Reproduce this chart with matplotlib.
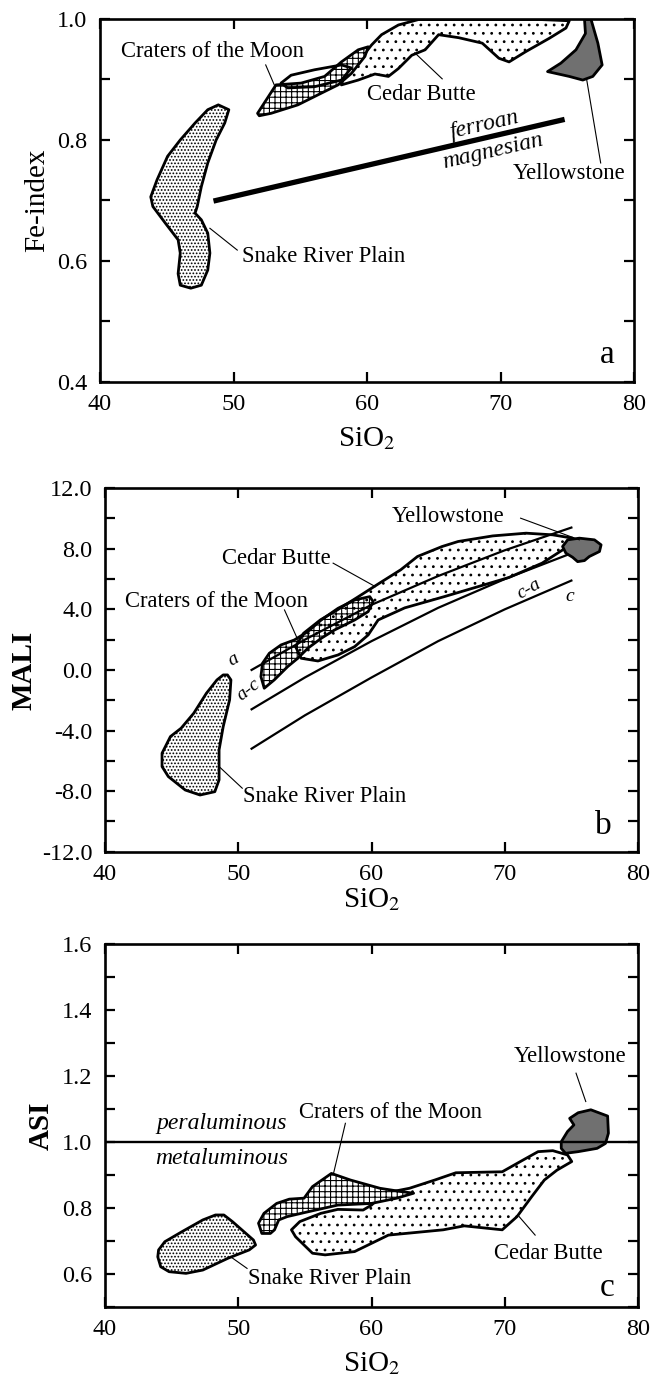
import numpy as np
import matplotlib.pyplot as plt
from matplotlib.patches import Polygon
from matplotlib.ticker import MultipleLocator, FuncFormatter

plt.rcParams['font.family'] = ['Liberation Serif', 'DejaVu Serif']
plt.rcParams['mathtext.fontset'] = 'stix'
plt.rcParams['axes.unicode_minus'] = False
plt.rcParams['hatch.linewidth'] = 0.8

# ---------------- panel a : Fe-index vs SiO2 ----------------
a_srp_x = [48.86, 49.65, 49.34, 48.70, 48.07, 47.59, 47.28, 47.12, 47.59, 48.07, 48.23, 48.07, 47.59,
           46.80, 46.01, 45.85, 46.01, 45.85, 44.91, 43.96, 43.80, 44.27, 45.06, 46.01, 47.12, 48.07]
a_srp_y = [0.858, 0.850, 0.828, 0.800, 0.762, 0.723, 0.690, 0.679, 0.668, 0.646, 0.613, 0.585, 0.560,
           0.555, 0.560, 0.579, 0.613, 0.635, 0.662, 0.690, 0.706, 0.734, 0.773, 0.800, 0.828, 0.850]

a_com_x = [51.80, 53.18, 55.07, 56.82, 58.08, 59.34, 60.09, 59.84, 58.83, 57.83, 56.82, 54.82, 52.81, 51.93]
a_com_y = [0.844, 0.891, 0.894, 0.905, 0.929, 0.949, 0.954, 0.938, 0.910, 0.891, 0.880, 0.858, 0.844, 0.840]

a_loop_x = [53.56, 54.31, 56.07, 58.08, 58.83, 58.08, 56.07, 54.06]
a_loop_y = [0.894, 0.907, 0.916, 0.924, 0.919, 0.899, 0.888, 0.886]

a_cb_x = [58.08, 59.34, 60.59, 61.60, 62.35, 63.35, 64.35, 65.36, 66.87, 68.63, 69.88, 70.64, 71.89,
          73.65, 74.90, 75.15, 73.00, 63.85, 62.35, 61.09, 60.34, 59.84, 59.08, 58.33]
a_cb_y = [0.891, 0.899, 0.909, 0.905, 0.918, 0.940, 0.949, 0.974, 0.969, 0.960, 0.935, 0.929, 0.946,
          0.968, 0.985, 0.997, 0.999, 0.999, 0.990, 0.974, 0.957, 0.943, 0.924, 0.910]

a_ys_x = [76.29, 76.78, 77.29, 77.61, 76.91, 76.16, 75.15, 73.52, 74.52, 75.65, 76.36]
a_ys_y = [0.999, 0.999, 0.960, 0.924, 0.905, 0.899, 0.905, 0.913, 0.927, 0.949, 0.976]

a_div_x = [48.5, 74.8]
a_div_y = [0.699, 0.834]

# ---------------- panel b : MALI vs SiO2 ----------------
b_srp_x = [49.19, 49.45, 49.35, 48.87, 48.56, 48.56, 48.24, 47.13, 46.02, 44.75, 44.28, 44.28, 44.91,
           45.71, 46.66, 47.61, 48.40, 48.87]
b_srp_y = [-0.33, -0.66, -1.98, -3.74, -5.28, -7.26, -8.04, -8.26, -7.93, -7.04, -6.38, -5.50, -4.40,
           -3.85, -2.86, -1.54, -0.66, -0.33]

b_com_x = [51.95, 51.70, 51.82, 52.33, 53.21, 54.21, 55.22, 56.23, 57.49, 58.74, 59.87, 60.12, 59.75,
           58.74, 57.23, 56.23, 55.22, 54.47, 53.71, 52.70]
b_com_y = [-1.21, -0.44, 0.44, 1.10, 1.65, 1.98, 2.53, 3.30, 4.07, 4.62, 4.84, 4.51, 3.85,
           3.30, 2.64, 2.09, 1.43, 0.77, 0.22, -0.66]

b_cb_x = [54.72, 55.98, 57.49, 58.74, 59.75, 60.50, 62.50, 65.50, 68.00, 70.30, 72.80, 74.30, 75.30,
          75.10, 73.60, 71.60, 69.10, 66.50, 65.30, 63.45, 62.19, 60.60, 59.02, 57.43, 56.16, 54.90, 54.30]
b_cb_y = [0.77, 0.59, 0.99, 1.54, 2.31, 3.30, 4.10, 4.85, 5.50, 6.10, 7.05, 7.90, 8.45,
          8.70, 8.92, 9.03, 8.85, 8.48, 8.15, 7.49, 6.61, 5.73, 4.84, 3.96, 3.30, 2.42, 1.54]

b_ys_x = [74.34, 74.72, 75.60, 76.73, 77.23, 77.11, 76.35, 75.98, 75.47, 75.09, 74.59]
b_ys_y = [8.15, 8.59, 8.70, 8.59, 8.26, 7.82, 7.49, 7.22, 7.15, 7.44, 7.71]

# MALI boundaries
b_bound_x = [51, 55, 60, 65, 70, 75]
b_alk_y = [0.0, 2.0, 4.3, 6.2, 7.9, 9.4]
b_alkcalc_y = [-2.6, -0.5, 1.9, 4.1, 6.0, 7.7]
b_calcalk_y = [-5.2, -3.0, -0.5, 1.9, 4.0, 5.9]

# ---------------- panel c : ASI vs SiO2 ----------------
c_srp_x = [44.02, 44.49, 45.76, 47.34, 48.29, 48.92, 49.56, 51.14, 51.30, 50.82, 49.24, 47.34, 46.08,
           44.81, 44.18, 43.96]
c_srp_y = [0.672, 0.697, 0.727, 0.763, 0.778, 0.778, 0.758, 0.702, 0.687, 0.672, 0.647, 0.611, 0.601,
           0.606, 0.621, 0.651]

c_com_x = [51.77, 51.52, 51.93, 52.88, 53.83, 54.94, 55.57, 56.99, 58.42, 60.63, 62.22, 63.16, 61.90,
           60.00, 57.47, 54.94, 53.67, 53.04, 52.72, 52.41]
c_com_y = [0.722, 0.753, 0.783, 0.813, 0.826, 0.829, 0.864, 0.904, 0.884, 0.859, 0.849, 0.844, 0.829,
           0.813, 0.808, 0.785, 0.773, 0.763, 0.733, 0.722]

c_cb_x = [53.99, 54.30, 55.57, 56.52, 58.73, 60.00, 61.27, 65.38, 66.96, 69.81, 70.92, 72.03, 72.97,
          73.92, 75.03, 74.71, 73.61, 72.50, 71.39, 69.81, 66.33, 64.75, 62.85, 60.95, 60.00, 59.37,
          57.47, 56.20, 54.62]
c_cb_y = [0.733, 0.712, 0.662, 0.657, 0.667, 0.692, 0.717, 0.733, 0.745, 0.733, 0.773, 0.834, 0.884,
          0.914, 0.940, 0.960, 0.973, 0.970, 0.945, 0.909, 0.906, 0.884, 0.859, 0.844, 0.808, 0.793,
          0.795, 0.783, 0.758]

c_ys_x = [74.24, 74.71, 75.19, 74.87, 75.51, 76.46, 77.72, 77.78, 77.56, 76.93, 75.51, 74.56, 74.24]
c_ys_y = [1.000, 1.031, 1.051, 1.071, 1.088, 1.097, 1.078, 1.026, 0.995, 0.980, 0.970, 0.965, 0.980]

c_asi_line = 1.0

LABEL_FS = 16.3
TICK_FS = 17.5
AXIS_FS = 21
LETTER_FS = 24


def field(ax, xs, ys, hatch=None, face='white', z=2, fill=True):
    p = Polygon(np.column_stack([xs, ys]), closed=True, facecolor=face if fill else 'none',
                edgecolor='black', hatch=hatch, linewidth=2.0, joinstyle='round', zorder=z)
    ax.add_patch(p)


def leader(ax, x0, y0, x1, y1):
    ax.plot([x0, x1], [y0, y1], color='black', linewidth=0.8, zorder=5)


def style(ax, ymajor, yminor, fmt):
    ax.set_xlim(40, 80)
    ax.xaxis.set_major_locator(MultipleLocator(10))
    ax.yaxis.set_major_locator(MultipleLocator(ymajor))
    ax.yaxis.set_minor_locator(MultipleLocator(yminor))
    ax.yaxis.set_major_formatter(FuncFormatter(lambda v, p: fmt.format(v)))
    ax.tick_params(which='both', direction='in', top=True, right=True, length=7, width=1.6,
                   labelsize=TICK_FS, pad=9)
    for s in ax.spines.values():
        s.set_linewidth(1.9)


fig = plt.figure(figsize=(6.58, 13.83), dpi=100)

# panel a
ax = fig.add_axes([0.152, 0.7238, 0.8116, 0.2625])
field(ax, a_cb_x, a_cb_y, hatch='..', z=2)
field(ax, a_com_x, a_com_y, hatch='+++', z=3)
field(ax, a_loop_x, a_loop_y, z=4, fill=False)
field(ax, a_srp_x, a_srp_y, hatch='.....', z=2)
field(ax, a_ys_x, a_ys_y, face='#707070', z=2)
ax.plot(a_div_x, a_div_y, color='black', linewidth=3.8, solid_capstyle='butt', zorder=4)
ax.text(68.8, 0.825, 'ferroan', fontsize=17, style='italic', rotation=13, ha='center', va='center')
ax.text(69.4, 0.781, 'magnesian', fontsize=17, style='italic', rotation=13, ha='center', va='center')
ax.text(48.45, 0.946, 'Craters of the Moon', fontsize=LABEL_FS, ha='center', va='center')
leader(ax, 52.41, 0.924, 53.13, 0.887)
ax.text(64.05, 0.875, 'Cedar Butte', fontsize=LABEL_FS, ha='center', va='center')
leader(ax, 65.63, 0.901, 63.58, 0.944)
ax.text(75.13, 0.745, 'Yellowstone', fontsize=LABEL_FS, ha='center', va='center')
leader(ax, 76.45, 0.900, 77.50, 0.762)
ax.text(56.77, 0.607, 'Snake River Plain', fontsize=LABEL_FS, ha='center', va='center')
leader(ax, 48.23, 0.654, 50.28, 0.618)
ax.text(77.97, 0.445, 'a', fontsize=LETTER_FS, ha='center', va='center')
ax.set_ylim(0.4, 1.0)
style(ax, 0.2, 0.1, '{:.1f}')
ax.set_ylabel('Fe-index', fontsize=AXIS_FS, labelpad=5)
ax.set_xlabel(r'SiO$_2$', fontsize=AXIS_FS, labelpad=7)

# panel b
ax = fig.add_axes([0.1596, 0.3842, 0.810, 0.2628])
ax.plot(b_bound_x, b_alk_y, color='black', linewidth=1.6, zorder=1)
ax.plot(b_bound_x, b_alkcalc_y, color='black', linewidth=1.6, zorder=1)
ax.plot(b_bound_x, b_calcalk_y, color='black', linewidth=1.6, zorder=1)
field(ax, b_cb_x, b_cb_y, hatch='..', face='none', z=2)
field(ax, b_com_x, b_com_y, hatch='+++', face='none', z=3)
field(ax, b_srp_x, b_srp_y, hatch='.....', z=2)
field(ax, b_ys_x, b_ys_y, face='#707070', z=3)
ax.text(49.67, 0.66, 'a', fontsize=14, style='italic', rotation=30, ha='center', va='center')
ax.text(50.78, -1.32, 'a-c', fontsize=14, style='italic', rotation=38, ha='center', va='center')
ax.text(71.85, 5.35, 'c-a', fontsize=14, style='italic', rotation=30, ha='center', va='center')
ax.text(74.9, 4.84, 'c', fontsize=14, style='italic', ha='center', va='center')
ax.text(65.77, 10.13, 'Yellowstone', fontsize=LABEL_FS, ha='center', va='center')
leader(ax, 71.19, 10.02, 75.6, 8.59)
ax.text(52.84, 7.33, 'Cedar Butte', fontsize=LABEL_FS, ha='center', va='center')
leader(ax, 57.12, 7.05, 60.29, 5.5)
ax.text(48.4, 4.51, 'Craters of the Moon', fontsize=LABEL_FS, ha='center', va='center')
leader(ax, 53.47, 3.96, 54.42, 2.09)
ax.text(56.48, -8.37, 'Snake River Plain', fontsize=LABEL_FS, ha='center', va='center')
leader(ax, 48.56, -6.38, 50.3, -7.81)
ax.text(77.4, -10.3, 'b', fontsize=LETTER_FS, ha='center', va='center')
ax.set_ylim(-12, 12)
style(ax, 4, 2, '{:.1f}')
ax.set_ylabel('MALI', fontsize=AXIS_FS, fontweight='bold', labelpad=3)
ax.set_xlabel(r'SiO$_2$', fontsize=AXIS_FS, labelpad=1)

# panel c
ax = fig.add_axes([0.1596, 0.0552, 0.810, 0.2623])
field(ax, c_cb_x, c_cb_y, hatch='..', z=2)
field(ax, c_com_x, c_com_y, hatch='+++', z=3)
field(ax, c_srp_x, c_srp_y, hatch='.....', z=2)
field(ax, c_ys_x, c_ys_y, face='#707070', z=3)
ax.axhline(c_asi_line, color='black', linewidth=1.7, zorder=4)
ax.text(48.77, 1.056, 'peraluminous', fontsize=17, style='italic', ha='center', va='center')
ax.text(48.77, 0.950, 'metaluminous', fontsize=17, style='italic', ha='center', va='center')
ax.text(74.87, 1.258, 'Yellowstone', fontsize=LABEL_FS, ha='center', va='center')
leader(ax, 75.35, 1.208, 76.08, 1.122)
ax.text(61.42, 1.088, 'Craters of the Moon', fontsize=LABEL_FS, ha='center', va='center')
leader(ax, 58.04, 1.056, 57.15, 0.904)
ax.text(56.84, 0.586, 'Snake River Plain', fontsize=LABEL_FS, ha='center', va='center')
leader(ax, 49.40, 0.652, 50.66, 0.616)
ax.text(73.29, 0.662, 'Cedar Butte', fontsize=LABEL_FS, ha='center', va='center')
leader(ax, 71.08, 0.773, 72.28, 0.717)
ax.text(77.72, 0.556, 'c', fontsize=LETTER_FS, ha='center', va='center')
ax.set_ylim(0.5, 1.6)
style(ax, 0.2, 0.1, '{:.1f}')
ax.set_ylabel('ASI', fontsize=AXIS_FS, fontweight='bold', labelpad=5)
ax.set_xlabel(r'SiO$_2$', fontsize=AXIS_FS, labelpad=7)

fig.savefig('out.png', dpi=100)
